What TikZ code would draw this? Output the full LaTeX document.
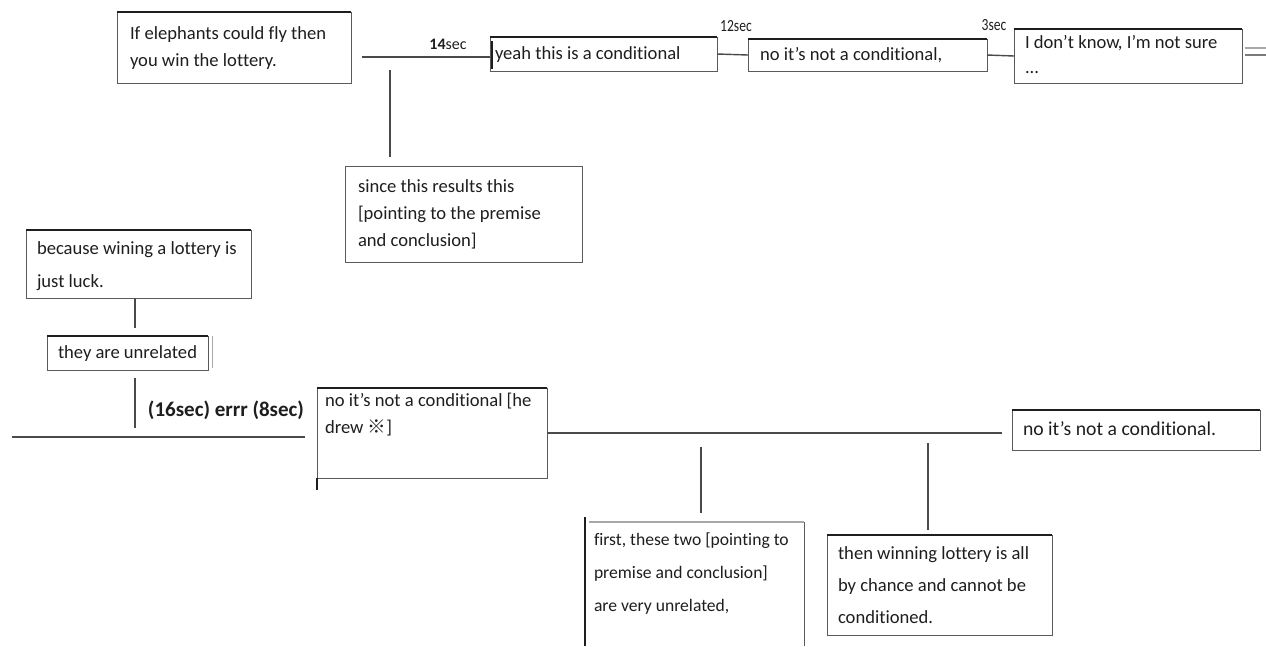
\documentclass[tikz,border=0pt]{standalone}
\usepackage{fontspec}
\setmainfont[Ligatures=NoCommon]{Carlito}
\newfontfamily\narrowfont[FakeStretch=0.8, Ligatures=NoCommon]{Carlito}
\newfontfamily\markfont{Noto Sans CJK JP}
\usetikzlibrary{calc}

% fixed-size text cell: #1 inner vertical position, #2 height, #3 width, #4 text
\newcommand\cellbox[4]{\parbox[c][#2][#1]{#3}{\raggedright\strut #4\strut}}

\definecolor{ink}{HTML}{1E1E1E}
\definecolor{boxgray}{HTML}{5A5A5A}
\definecolor{linegray}{HTML}{4A4A4A}
\definecolor{lightgray}{HTML}{A8A8A8}

\tikzset{
  box/.style={draw=boxgray, line width=0.8pt, inner xsep=#1, inner ysep=0pt,
              outer sep=0pt, anchor=north west, text=ink,
              font=\fontsize{18.6}{27}\selectfont},
  box/.default=11pt,
  topline/.style={draw=ink, line width=1.8pt},
  topbar/.style={append after command={(\tikzlastnode.north west) edge[topline] (\tikzlastnode.north east)}},
  link/.style={draw=linegray, line width=1.4pt},
  timing/.style={text=ink, inner sep=0pt},
}

\begin{document}
\begin{tikzpicture}[x=1pt, y=-1pt]
\useasboundingbox (0,0) rectangle (1266,646);

% ---- top row ----
\node[box=13pt, topbar] (A) at (117,12)
  {\cellbox{c}{71pt}{208pt}{If elephants could fly then\newline you win the lottery.}};
\node[box=5pt, topbar] (C) at (490,37)
  {\cellbox{c}{34pt}{217pt}{yeah this is a conditional}};
\node[box=12pt, topbar] (D) at (748,39)
  {\cellbox{c}{32pt}{215pt}{no it’s not a conditional,}};
\node[box=11pt, topbar, font=\fontsize{18.6}{25}\selectfont] (E) at (1014,29)
  {\cellbox{c}{54pt}{206pt}{I don’t know, I’m not sure\newline ...}};
\node[box=13pt] (B) at (345,166)
  {\cellbox{c}{96pt}{211pt}{since this results this\newline [pointing to the premise\newline and conclusion]}};

% cursor mark at the left of the first answer
\draw[ink, line width=1.3pt] ([xshift=2pt,yshift=-4pt]C.north west) -- ([xshift=2pt,yshift=2pt]C.south west);

% timings
\node[timing, font=\fontsize{16}{16}\selectfont] (s14) at (448,44) {\textbf{14}sec};
\node[timing, font=\narrowfont\fontsize{17}{17}\selectfont] (s12) at (736,26) {12sec};
\node[timing, font=\narrowfont\fontsize{17}{17}\selectfont] (s3) at (994,25) {3sec};

% top connectors
\coordinate (t0) at (362,57);
\coordinate (t1) at (390,70);
\coordinate (t2) at (1266,48);
\coordinate (t3) at (1266,55);
\draw[link] (t0) -- (t0 -| C.west);
\draw[link, shorten >=9pt] (t1) -- (t1 |- B.north);
\draw[link] (C.east) -- (D.west);
\draw[link] (D.east) -- (E.west);
% trailing double stroke after the last answer
\draw[draw=lightgray, line width=1.2pt] ([xshift=3pt]E.east |- t2) -- (t2);
\draw[draw=boxgray!80, line width=1.8pt] ([xshift=3pt]E.east |- t3) -- (t3);

% ---- left cluster ----
\node[box=11pt, topbar, font=\fontsize{18.6}{33}\selectfont] (F) at (26,230)
  {\cellbox{c}{68pt}{203pt}{because wining a lottery is\newline just luck.}};
\node[box=11pt, topbar] (G) at (47,336)
  {\cellbox{c}{34pt}{139pt}{they are unrelated}};
\draw[lightgray, line width=0.8pt] ([xshift=4pt]G.north east) -- ([xshift=4pt,yshift=2pt]G.south east);

\coordinate (xa) at (135,0);
\coordinate (L0) at (12,437);
\draw[link, shorten >=8pt] (F.south -| xa) -- (G.north -| xa);
\draw[link, shorten <=8pt, shorten >=9pt] (G.south -| xa) -- (L0 -| xa);

\node[timing, font=\bfseries\fontsize{21}{21}\selectfont] (wait) at (226,410) {(16sec) errr (8sec)};

% ---- bottom row ----
\node[box=8pt, topbar] (H) at (317,388)
  {\cellbox{t}{90pt}{214pt}{no it’s not a conditional [he\newline drew {\markfont ※}]}};
\draw[ink, line width=1.3pt] (H.south west) -- ++(0,12);

\node[box=11pt, topbar, font=\fontsize{19.7}{27}\selectfont] (I) at (1012,410)
  {\cellbox{c}{40pt}{226pt}{no it’s not a conditional.}};

\node[box=9pt, draw=none, font=\fontsize{17.6}{33}\selectfont] (J) at (585,522)
  {\cellbox{t}{124pt}{201pt}{first, these two [pointing to\newline premise and conclusion]\newline are very unrelated,}};
\draw[lightgray, line width=1.6pt] ([xshift=4pt]J.north west) -- (J.north east);
\draw[boxgray, line width=0.9pt] (J.north east) -- (J.south east);
\draw[ink, line width=1.1pt] ([yshift=5pt]J.north west) -- (J.south west);

\node[box=11pt, topbar, font=\fontsize{18.6}{32}\selectfont] (K) at (827,535)
  {\cellbox{c}{100pt}{203pt}{then winning lottery is all\newline by chance and cannot be\newline conditioned.}};

% bottom connectors
\draw[link, shorten >=12pt] (L0) -- (L0 -| H.west);
\draw[link, shorten >=10pt] (H.east) -- (H.east -| I.west);
\coordinate (m1) at (701,432);
\coordinate (m2) at (928,432);
\draw[link, shorten <=15pt, shorten >=9pt] (m1) -- (m1 |- J.north);
\draw[link, shorten <=11pt, shorten >=5pt] (m2) -- (m2 |- K.north);
\end{tikzpicture}
\end{document}
